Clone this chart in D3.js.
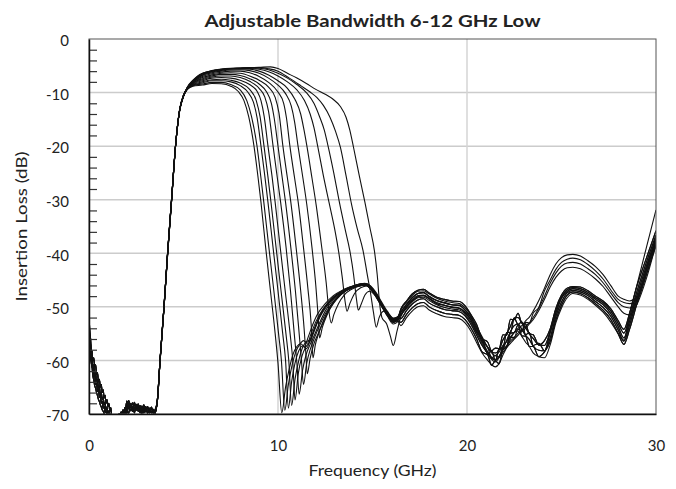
<!DOCTYPE html>
<html>
<head>
<meta charset="utf-8">
<script src="https://cdn.jsdelivr.net/npm/d3@7"></script>
<style>
  html, body { margin: 0; padding: 0; background: #fff; }
  svg { display: block; }
  text { font-family: "Lato", "Liberation Sans", sans-serif; fill: #222; }
</style>
</head>
<body>
<svg id="chart" width="676" height="489"></svg>
<script>
// ---------------- DATA ----------------
const chartTitle = "Adjustable Bandwidth 6-12 GHz Low";
const xLabel = "Frequency (GHz)";
const yLabel = "Insertion Loss (dB)";
const xTicks = [0, 10, 20, 30];
const yTicks = [0, -10, -20, -30, -40, -50, -60, -70];

// low stopband + lower skirt (shared frequency grid, 4 measured variants)
const lowFreq = [0,0.04,0.08,0.12,0.16,0.2,0.25,0.3,0.35,0.4,0.45,0.5,0.55,0.6,0.65,0.7,0.75,0.8,0.85,0.9,0.95,1.0,1.05,1.1,1.15,1.2,
  1.3,1.4,1.5,1.6,1.7,1.8,1.9,2.0,2.1,2.2,2.3,2.4,2.5,2.6,2.7,2.8,2.9,3.0,3.1,3.2,3.3,3.4,3.5,
  3.62,3.76,3.97,4.16,4.37,4.59,4.8,5.0];
const low1 = [-51,-54.5,-55.8,-58.2,-58.3,-60.0,-59.5,-61.2,-60.8,-62.6,-62.3,-64.0,-63.5,-65.0,-64.5,-66.0,-65.5,-67.0,-66.5,-68.0,-67.3,-68.6,-68.0,-69.5,-68.8,-70.2,
  -70.5,-71,-70.2,-70.8,-69.6,-70.4,-68.8,-69.9,-68.1,-69.4,-68.6,-69.8,-68.4,-69.5,-68.9,-69.9,-68.7,-69.6,-68.8,-69.8,-69.0,-69.9,-69.2,
  -67.4,-60,-50,-40,-30,-19.5,-13.2,-10.6];
const low2 = [-53,-56.5,-57.0,-59.5,-59.2,-61.5,-60.8,-62.8,-62.3,-64.0,-63.6,-65.2,-64.8,-66.4,-65.9,-67.3,-66.9,-68.3,-67.8,-69.2,-68.7,-69.9,-69.4,-70.5,-70.0,-71,
  -71,-70.3,-71,-69.9,-70.6,-69.2,-70.1,-67.6,-69.0,-68.2,-69.5,-68.0,-69.3,-68.6,-69.8,-68.5,-69.6,-68.6,-69.7,-68.9,-69.8,-69.1,-69.9,
  -67.2,-59.8,-49.8,-39.8,-29.8,-19.4,-13.1,-10.5];
const low3 = [-55,-57.5,-58.8,-59.8,-61.0,-61.6,-63.0,-62.8,-64.5,-64.2,-65.8,-65.4,-66.9,-66.5,-68.0,-67.6,-68.9,-68.5,-69.7,-69.3,-70.3,-70.0,-70.8,-70.4,-71,-71,
  -70.8,-71,-70.5,-71,-70.1,-70.7,-69.5,-68.7,-67.5,-68.8,-67.9,-69.1,-68.2,-69.4,-68.4,-69.3,-68.3,-69.4,-68.6,-69.5,-68.7,-69.6,-69.5,
  -67.6,-60.2,-50.2,-40.2,-30.2,-19.6,-13.3,-10.7];
const low4 = [-58,-59.2,-59.4,-60.5,-61.2,-62.8,-63.6,-64.7,-65.2,-66.0,-66.6,-67.3,-67.7,-68.3,-68.7,-69.2,-69.5,-69.9,-70.2,-70.5,-70.8,-71,-71,-71,-71,-71,
  -71,-71,-71,-70.4,-71,-70.0,-70.6,-69.2,-69.9,-68.0,-69.2,-67.8,-68.9,-68.1,-69.2,-68.8,-69.8,-68.9,-69.9,-69.0,-69.7,-69.3,-69.8,
  -67.3,-59.9,-49.9,-39.9,-29.9,-19.5,-13.2,-10.6];

// passband, upper skirt and notch region for each of the 15 states [GHz, dB]
const head1 = [[5.2,-9.4],[5.5,-8.8],[6.0,-8.6],[6.5,-8.3],[7.0,-8.35],[7.5,-8.8],[7.9,-9.8],[8.2,-11.5],[8.45,-14.5],[8.73,-20],[8.95,-26],[9.1,-30.5],[9.35,-39],[9.6,-47],[9.85,-55],[10.0,-60.5],[10.2,-69.8],[10.4,-65],[10.6,-61.5],[10.8,-58.8],[11.0,-57.4],[11.2,-56.9],[11.4,-57.4],[11.6,-55.6],[11.85,-53.2],[12.05,-51.6],[12.5,-49.4],[12.93,-47.9],[13.4,-46.9],[13.8,-46.3],[14.2,-45.9],[14.6,-45.7],[14.9,-46.3],[15.2,-47.7],[15.5,-49.5],[15.8,-51.2],[16.1,-52.5],[16.3,-52.2]];
const head2 = [[5.2,-9.4],[5.5,-8.7],[6.0,-8.4],[6.5,-8.1],[7.0,-8.1],[7.5,-8.5],[8.0,-9.5],[8.35,-11.5],[8.6,-14.5],[8.89,-20],[9.1,-26],[9.25,-30.5],[9.52,-39],[9.78,-47],[10.03,-55],[10.18,-60],[10.36,-69.3],[10.55,-64.5],[10.75,-60.8],[10.95,-58.3],[11.15,-57],[11.35,-56.3],[11.55,-56.8],[11.75,-55],[12.0,-52.8],[12.4,-50.3],[12.9,-48.4],[13.4,-47.3],[13.8,-46.6],[14.2,-46.2],[14.6,-45.9],[14.9,-46.5],[15.2,-47.9],[15.5,-49.8],[15.8,-51.6],[16.1,-52.9],[16.3,-52.6]];
const head3 = [[5.2,-9.35],[5.5,-8.6],[6.0,-8.2],[6.5,-7.8],[7.0,-7.8],[7.5,-8.0],[8.0,-8.7],[8.4,-9.9],[8.7,-11.8],[8.9,-14.8],[9.10,-20],[9.3,-25.5],[9.47,-30.5],[9.74,-39],[10.0,-47],[10.25,-55],[10.4,-60],[10.55,-68.9],[10.72,-64],[10.9,-60.5],[11.1,-58.2],[11.3,-57.3],[11.5,-57.8],[11.7,-56.2],[11.95,-53.8],[12.3,-51],[12.8,-48.8],[13.3,-47.3],[13.8,-46.4],[14.2,-46],[14.6,-45.8],[14.9,-46.6],[15.2,-48.2],[15.5,-50],[15.8,-51.8],[16.1,-53.2],[16.3,-52.9]];
const head4 = [[5.2,-9.35],[5.5,-8.5],[6.0,-8.0],[6.5,-7.6],[7.0,-7.5],[7.5,-7.7],[8.0,-8.2],[8.5,-9.4],[8.85,-11.5],[9.05,-14.5],[9.26,-20],[9.46,-25.5],[9.63,-30.5],[9.9,-39],[10.16,-47],[10.42,-55],[10.57,-60],[10.72,-68.4],[10.9,-63.5],[11.1,-60],[11.3,-57.6],[11.5,-56.5],[11.7,-56.1],[11.9,-54.4],[12.2,-52],[12.6,-49.8],[13.1,-47.8],[13.6,-46.7],[14.0,-46.1],[14.4,-45.7],[14.7,-45.9],[15.0,-46.9],[15.3,-48.5],[15.6,-50.4],[15.9,-52.0],[16.1,-52.6],[16.3,-52.3]];
const head5 = [[5.2,-9.3],[5.5,-8.4],[6.0,-7.8],[6.5,-7.3],[7.0,-7.2],[7.5,-7.3],[8.0,-7.7],[8.5,-8.5],[8.9,-9.8],[9.1,-11.5],[9.27,-14.5],[9.47,-20],[9.68,-25.5],[9.85,-30.5],[10.12,-39],[10.38,-47],[10.64,-55],[10.78,-60],[10.9,-67.4],[11.07,-62.5],[11.27,-59.2],[11.47,-57.5],[11.67,-56.6],[11.87,-55],[12.1,-52.8],[12.4,-50.6],[12.8,-48.6],[13.3,-47.2],[13.8,-46.3],[14.2,-45.9],[14.6,-45.6],[14.9,-46.1],[15.2,-47.4],[15.5,-49.2],[15.8,-50.9],[16.1,-52.1],[16.3,-51.9]];
const head6 = [[5.2,-9.3],[5.5,-8.3],[6.0,-7.6],[6.5,-7.1],[7.0,-6.9],[7.5,-6.9],[8.0,-7.2],[8.5,-7.9],[9.0,-9.2],[9.3,-10.8],[9.5,-13.5],[9.74,-20],[9.96,-25.8],[10.14,-30.5],[10.43,-39],[10.66,-47],[10.86,-55],[11.0,-60.5],[11.12,-66.3],[11.3,-61.8],[11.5,-58.8],[11.7,-57],[11.9,-55.5],[12.15,-53.4],[12.5,-50.8],[12.9,-48.8],[13.4,-47.3],[13.9,-46.4],[14.3,-46],[14.6,-45.9],[14.9,-46.5],[15.2,-47.9],[15.5,-49.7],[15.8,-51.4],[16.1,-52.7],[16.3,-52.4]];
const head7 = [[5.2,-9.25],[5.5,-8.2],[6.0,-7.4],[6.5,-6.9],[7.0,-6.6],[7.5,-6.6],[8.0,-6.8],[8.5,-7.4],[9.0,-8.4],[9.4,-9.9],[9.65,-12],[9.8,-14.8],[10.0,-20],[10.22,-25.8],[10.4,-30.5],[10.68,-39],[10.92,-47],[11.12,-55],[11.24,-60],[11.35,-64.5],[11.52,-60.5],[11.72,-57.8],[11.95,-55.6],[12.2,-53.5],[12.55,-51],[13.0,-48.8],[13.5,-47.2],[13.9,-46.5],[14.3,-46.1],[14.6,-45.9],[14.9,-46.7],[15.2,-48.1],[15.5,-50],[15.8,-51.7],[16.1,-52.9],[16.3,-52.6]];
const head8 = [[5.2,-9.25],[5.5,-8.1],[6.0,-7.2],[6.5,-6.7],[7.0,-6.4],[7.5,-6.3],[8.0,-6.4],[8.5,-6.9],[9.0,-7.7],[9.5,-9.0],[9.85,-10.9],[10.05,-13.8],[10.26,-20],[10.5,-26],[10.68,-30.5],[10.96,-39],[11.2,-47],[11.38,-54],[11.47,-58.5],[11.55,-62.5],[11.7,-59.6],[11.9,-56.9],[12.1,-55.2],[12.35,-53.2],[12.7,-50.6],[13.1,-48.6],[13.6,-47],[14.0,-46.3],[14.4,-45.9],[14.7,-45.9],[15.0,-46.9],[15.3,-48.5],[15.6,-50.3],[15.9,-51.9],[16.1,-52.7],[16.3,-52.4]];
const head9 = [[5.2,-9.2],[5.5,-8.0],[6.0,-7.0],[6.5,-6.5],[7.0,-6.2],[7.5,-6.0],[8.0,-6.0],[8.5,-6.3],[9.0,-7.0],[9.5,-8.1],[10.0,-9.9],[10.3,-12],[10.45,-14.8],[10.63,-20],[10.88,-26],[11.07,-30.5],[11.35,-39],[11.58,-46.5],[11.75,-53],[11.85,-59.5],[11.98,-57],[12.15,-55],[12.4,-52.6],[12.75,-50],[13.15,-48.1],[13.6,-46.8],[14.0,-46.1],[14.4,-45.7],[14.7,-45.7],[15.0,-46.6],[15.3,-48.2],[15.6,-50],[15.9,-51.6],[16.1,-52.4],[16.3,-52.1]];
const head10 = [[5.2,-9.2],[5.5,-7.95],[6.0,-6.8],[6.5,-6.3],[7.0,-6.0],[7.5,-5.8],[8.0,-5.75],[8.5,-5.9],[9.0,-6.4],[9.5,-7.3],[10.0,-8.6],[10.4,-10.2],[10.7,-12.5],[10.88,-15.5],[11.06,-20],[11.32,-26],[11.52,-30.8],[11.8,-39],[12.0,-46],[12.12,-51.5],[12.2,-55.8],[12.35,-53.8],[12.6,-51.5],[12.95,-49.2],[13.4,-47.4],[13.8,-46.6],[14.2,-46.1],[14.6,-45.9],[14.9,-46.6],[15.2,-48],[15.5,-49.8],[15.8,-51.5],[16.1,-52.8],[16.3,-52.5]];
const head11 = [[5.2,-9.15],[5.5,-7.9],[6.0,-6.7],[6.5,-6.15],[7.0,-5.85],[7.5,-5.65],[8.0,-5.6],[8.5,-5.65],[9.0,-6.0],[9.5,-6.7],[10.0,-7.8],[10.5,-9.2],[10.9,-11.3],[11.2,-14],[11.35,-16.5],[11.53,-20],[11.8,-26],[12.02,-31],[12.3,-38.5],[12.55,-45.5],[12.7,-51],[12.82,-53],[12.95,-51.5],[13.2,-49.4],[13.5,-47.8],[13.9,-46.7],[14.3,-46.1],[14.6,-45.9],[14.9,-46.4],[15.2,-47.8],[15.5,-49.6],[15.8,-51.3],[16.1,-52.4],[16.3,-52.1]];
const head12 = [[5.2,-9.1],[5.5,-7.85],[6.0,-6.6],[6.5,-6.05],[7.0,-5.75],[7.5,-5.55],[8.0,-5.5],[8.5,-5.5],[9.0,-5.65],[9.5,-6.1],[10.0,-6.9],[10.5,-8.0],[11.0,-9.5],[11.4,-11.5],[11.7,-14],[11.9,-16.5],[12.1,-20],[12.4,-25.5],[12.7,-30.5],[13.0,-35.5],[13.2,-39.5],[13.4,-44.5],[13.55,-49],[13.65,-50.8],[13.8,-49.4],[14.05,-47.5],[14.4,-46.4],[14.7,-46.1],[15.0,-46.8],[15.3,-48.3],[15.6,-50.1],[15.9,-51.7],[16.1,-52.5],[16.3,-52.2]];
const head13 = [[5.2,-9.1],[5.5,-7.8],[6.0,-6.5],[6.5,-5.95],[7.0,-5.65],[7.5,-5.5],[8.0,-5.45],[8.5,-5.4],[9.0,-5.45],[9.5,-5.75],[10.0,-6.4],[10.5,-7.3],[11.0,-8.5],[11.5,-10.0],[11.9,-12],[12.2,-14.5],[12.45,-17],[12.65,-20],[12.95,-25],[13.25,-30.5],[13.55,-35.5],[13.8,-39.5],[14.0,-44],[14.15,-48.5],[14.25,-50.6],[14.4,-49.5],[14.6,-47.8],[14.85,-47.1],[15.1,-47.7],[15.4,-49.4],[15.7,-51],[16.0,-52.2],[16.3,-52.2]];
const head14 = [[5.2,-9.05],[5.5,-7.75],[6.0,-6.45],[6.5,-5.9],[7.0,-5.6],[7.5,-5.45],[8.0,-5.4],[8.5,-5.35],[9.0,-5.35],[9.5,-5.55],[10.0,-6.0],[10.6,-7.3],[11.2,-8.7],[11.7,-9.9],[12.05,-10.9],[12.4,-12.4],[12.75,-14.6],[13.05,-17.3],[13.3,-20.2],[13.6,-25.5],[13.9,-31],[14.2,-35.5],[14.5,-39.5],[14.7,-43.5],[14.9,-47.5],[15.05,-51],[15.2,-53.8],[15.35,-52],[15.6,-50.8],[15.9,-51.5],[16.1,-52.2],[16.3,-52]];
const head15 = [[5.2,-9.0],[5.5,-7.7],[5.75,-6.9],[6.0,-6.4],[6.5,-5.95],[7.0,-5.7],[8.0,-5.4],[9.0,-5.3],[9.6,-5.2],[10.0,-5.5],[10.5,-6.4],[11.0,-7.3],[11.5,-8.3],[12.0,-9.4],[12.5,-10.3],[12.9,-11.2],[13.3,-12.6],[13.6,-14.6],[13.8,-17],[14.0,-20.3],[14.3,-25.5],[14.6,-30.5],[14.85,-35],[15.1,-39.5],[15.25,-44],[15.38,-49.5],[15.5,-52],[15.75,-53.2],[15.95,-55.5],[16.1,-57.2],[16.3,-54.5]];

// upper stopband (shared frequency grid, measured variants)
const tailFreq = [16.5,16.8,17.1,17.4,17.7,18.0,18.4,18.8,19.2,19.6,19.9,20.2,20.5,20.8,21.1,21.3,21.5,21.7,21.9,22.1,22.3,22.5,22.7,22.9,23.1,23.3,23.5,23.8,24.1,24.4,24.7,25.0,25.3,25.6,26.0,26.4,26.8,27.2,27.6,28.0,28.3,28.6,29.0,29.5,30];
const tailB1 = [-50.4,-48.9,-47.6,-46.9,-46.7,-47.4,-48.2,-48.6,-48.9,-49.0,-49.8,-51.4,-53.2,-55.9,-56.6,-58.2,-57.7,-57.8,-55.2,-55.3,-52.3,-52.4,-51.2,-53.0,-53.2,-55.0,-55.2,-57.1,-56.3,-54.1,-50.3,-47.8,-46.5,-46.2,-46.3,-47.0,-48.0,-48.9,-50.3,-52.6,-54.2,-51.2,-46.0,-40.8,-35.8];
const tailB2 = [-51.0,-49.6,-48.3,-47.5,-47.3,-48.1,-48.8,-49.2,-49.6,-49.7,-50.6,-51.9,-54.0,-55.9,-57.6,-58.4,-58.6,-58.0,-56.2,-55.0,-53.6,-52.1,-52.0,-53.0,-53.9,-55.1,-55.9,-57.1,-57.2,-54.6,-50.6,-48.2,-46.8,-46.4,-46.6,-47.3,-48.3,-49.2,-50.7,-53.1,-54.9,-52.0,-47.0,-41.6,-36.6];
const tailB3 = [-51.5,-50.0,-48.9,-48.1,-47.9,-48.5,-49.4,-49.7,-50.1,-50.3,-51.1,-52.4,-54.6,-56.0,-58.8,-58.2,-60.0,-57.8,-57.7,-54.8,-54.8,-52.1,-53.3,-52.8,-55.2,-54.8,-57.2,-56.8,-58.2,-54.8,-51.2,-48.4,-47.1,-46.6,-46.9,-47.6,-48.6,-49.6,-51.2,-53.7,-55.8,-52.7,-47.8,-42.3,-37.3];
const tailB4 = [-52.2,-50.7,-49.5,-48.7,-48.5,-49.3,-50.0,-50.5,-50.7,-50.9,-51.7,-53.2,-55.2,-57.2,-58.7,-59.6,-59.9,-59.3,-57.7,-56.3,-54.6,-53.5,-53.2,-54.2,-55.3,-56.1,-57.3,-58.1,-58.2,-55.8,-51.8,-49.1,-47.4,-46.9,-47.2,-47.9,-49.0,-50.1,-51.7,-54.3,-56.4,-53.4,-48.5,-43.0,-37.8];
const tailB5 = [-52.9,-51.4,-50.2,-49.4,-49.2,-50.0,-50.7,-51.2,-51.4,-51.6,-52.4,-53.9,-55.9,-58.4,-59.0,-60.9,-60.1,-60.6,-57.9,-57.4,-54.9,-54.8,-53.4,-55.4,-55.5,-57.4,-57.4,-59.3,-58.4,-56.5,-52.5,-49.7,-47.8,-47.2,-47.5,-48.3,-49.4,-50.6,-52.3,-55.0,-57.0,-54.2,-49.3,-43.8,-38.5];
const tailB6 = [-53.5,-52.0,-50.8,-50.0,-49.8,-50.6,-51.3,-51.8,-52.0,-52.2,-53.0,-54.5,-56.6,-58.6,-60.0,-60.8,-61.2,-60.6,-59.0,-57.6,-56.0,-54.8,-54.5,-55.5,-56.6,-57.4,-58.6,-59.3,-59.5,-57.1,-53.0,-50.2,-48.3,-47.5,-47.8,-48.6,-49.7,-51.0,-52.8,-55.0,-56.2,-51.3,-45.8,-38.8,-31.9];
const tailA1 = [-50.6,-49.1,-47.9,-47.1,-47.0,-47.6,-48.4,-48.9,-49.2,-49.4,-50.2,-51.6,-53.6,-55.6,-57.6,-58.6,-59.1,-58.4,-57.2,-56.5,-55.6,-54.8,-54.0,-53.5,-52.6,-51.9,-50.8,-48.8,-46.5,-44.0,-42.0,-40.8,-40.3,-40.2,-40.5,-41.4,-42.5,-44.0,-46.0,-48.0,-48.6,-48.9,-48.2,-42.8,-36.8];
const tailA2 = [-51.0,-49.5,-48.3,-47.5,-47.4,-48.0,-48.8,-49.3,-49.6,-49.8,-50.6,-52.0,-54.0,-56.5,-57.6,-59.5,-59.1,-59.4,-57.4,-57.3,-55.7,-55.7,-54.2,-54.4,-52.9,-53.0,-51.2,-50.1,-47.0,-45.0,-43.0,-41.7,-41.1,-40.9,-41.2,-42.1,-43.3,-44.8,-46.8,-48.6,-49.2,-49.4,-48.5,-43.2,-37.2];
const tailA3 = [-51.4,-49.9,-48.7,-47.9,-47.8,-48.4,-49.2,-49.7,-50.0,-50.2,-51.0,-52.4,-54.4,-56.4,-58.4,-59.4,-59.9,-59.2,-58.1,-57.4,-56.4,-55.7,-54.9,-54.4,-53.6,-53.0,-52.0,-50.2,-48.0,-45.6,-43.7,-42.4,-41.8,-41.7,-42.0,-42.9,-44.0,-45.5,-47.4,-49.2,-50.0,-50.2,-48.9,-43.9,-37.8];
const tailA4 = [-51.8,-50.3,-49.1,-48.3,-48.2,-48.8,-49.6,-50.1,-50.4,-50.6,-51.4,-52.8,-54.8,-56.8,-58.8,-59.8,-60.3,-59.5,-58.5,-57.6,-56.8,-56.0,-55.3,-54.6,-54.0,-53.2,-52.4,-50.7,-48.6,-46.3,-44.5,-43.3,-42.7,-42.6,-42.9,-43.7,-44.8,-46.2,-48.1,-50.0,-51.2,-51.5,-49.5,-44.6,-38.3];

// which measured pieces make up each state
const heads = [head1, head2, head3, head4, head5, head6, head7, head8, head9, head10, head11, head12, head13, head14, head15];
const lows  = [low1, low2, low3, low4, low1, low2, low3, low4, low1, low2, low3, low4, low1, low2, low3];
const tails = [tailB3, tailB5, tailB1, tailB4, tailB2, tailB6, tailB3, tailB1, tailB4, tailB2, tailB5, tailA1, tailA2, tailA3, tailA4];

// ---------------- CHART ----------------
const svg = d3.select("#chart");
const pL = 89, pR = 656, pT = 39, pB = 414;

const x = d3.scaleLinear().domain([0, 30]).range([pL, pR]);
const y = d3.scaleLinear().domain([-70, 0]).range([pB, pT]);

svg.append("defs").append("clipPath").attr("id", "plotclip")
  .append("rect").attr("x", pL).attr("y", pT)
  .attr("width", pR - pL).attr("height", pB - pT);

// grid lines
const grid = svg.append("g");
grid.selectAll("line.h").data(yTicks.filter(d => d < 0 && d > -70)).join("line")
  .attr("x1", pL).attr("x2", pR)
  .attr("y1", d => y(d)).attr("y2", d => y(d))
  .attr("stroke", "#cccccc").attr("stroke-width", 1.5);
grid.selectAll("line.v").data(xTicks.filter(d => d > 0 && d < 30)).join("line")
  .attr("x1", d => x(d)).attr("x2", d => x(d))
  .attr("y1", pT).attr("y2", pB)
  .attr("stroke", "#d4d4d4").attr("stroke-width", 1.5);

// series
const series = heads.map((h, i) => {
  const lo = lowFreq.map((f, j) => [f, lows[i][j]]);
  const tl = tailFreq.map((f, j) => [f, tails[i][j]]);
  return lo.concat(h, tl);
});

const line = d3.line().x(d => x(d[0])).y(d => y(d[1])).curve(d3.curveMonotoneX);
svg.append("g").attr("clip-path", "url(#plotclip)")
  .selectAll("path").data(series).join("path")
  .attr("d", line).attr("fill", "none")
  .attr("stroke", "#111").attr("stroke-width", 1.1)
  .attr("stroke-linejoin", "round");

// frame
svg.append("rect").attr("x", pL).attr("y", pT)
  .attr("width", pR - pL).attr("height", pB - pT)
  .attr("fill", "none").attr("stroke", "#555").attr("stroke-width", 1);

// minor y ticks (inside)
const minorTicks = d3.range(-68, 0, 2).filter(d => d % 10 !== 0);
const minorAxis = svg.append("g").attr("transform", `translate(${pL},0)`)
  .call(d3.axisLeft(y).tickValues(minorTicks).tickSize(-8).tickFormat(""));
minorAxis.select(".domain").remove();
minorAxis.selectAll("line").attr("stroke", "#333").attr("stroke-width", 1.2);

// y axis labels
const yAxis = svg.append("g").attr("transform", `translate(${pL},0)`)
  .call(d3.axisLeft(y).tickValues(yTicks).tickSize(0).tickPadding(20).tickFormat(d => String(d)));
yAxis.select(".domain").attr("stroke", "#111").attr("stroke-width", 1.5);
yAxis.selectAll("text").attr("font-size", 15).attr("dy", "0.45em")
  .style("font-family", "Lato, 'Liberation Sans', sans-serif").attr("fill", "#222");

// x axis
const xAxis = svg.append("g").attr("transform", `translate(0,${pB})`)
  .call(d3.axisBottom(x).tickValues(xTicks).tickSize(0).tickPadding(26).tickFormat(d => String(d)));
xAxis.select(".domain").attr("stroke", "#111").attr("stroke-width", 1.5);
xAxis.selectAll("text").attr("font-size", 15)
  .style("font-family", "Lato, 'Liberation Sans', sans-serif").attr("fill", "#222");

// titles
svg.append("text").attr("x", (pL + pR) / 2).attr("y", 27)
  .attr("text-anchor", "middle").attr("font-size", 17).attr("font-weight", "bold")
  .attr("textLength", 336).attr("lengthAdjust", "spacingAndGlyphs")
  .text(chartTitle);
svg.append("text").attr("x", (pL + pR) / 2).attr("y", 476)
  .attr("text-anchor", "middle").attr("font-size", 15.5)
  .attr("textLength", 128).attr("lengthAdjust", "spacingAndGlyphs")
  .text(xLabel);
svg.append("text").attr("transform", `translate(27,${(pT + pB) / 2}) rotate(-90)`)
  .attr("text-anchor", "middle").attr("font-size", 15.5)
  .attr("textLength", 150).attr("lengthAdjust", "spacingAndGlyphs")
  .text(yLabel);
</script>
</body>
</html>
